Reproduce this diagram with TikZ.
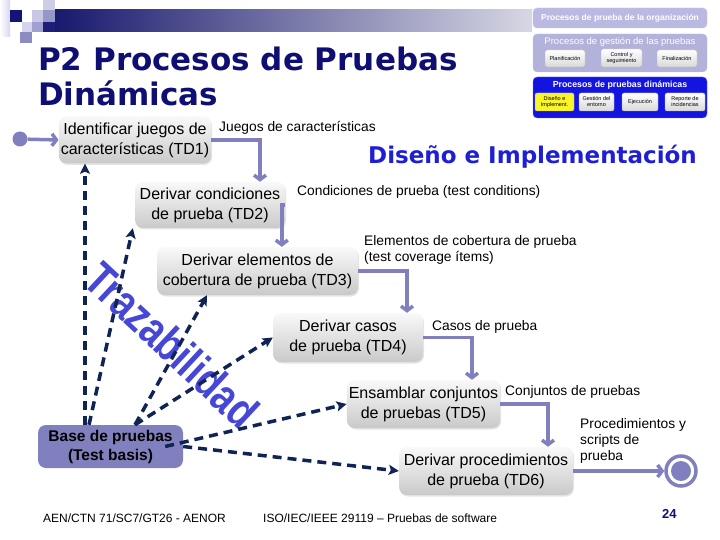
\documentclass[tikz,border=0pt]{standalone}
\usepackage{fontspec}
\setmainfont{Liberation Sans}
\newfontfamily\titlefont{DejaVu Sans}
\usetikzlibrary{arrows.meta,shadows,calc}
\definecolor{lav}{RGB}{128,128,190}
\definecolor{navy}{RGB}{15,15,115}
\definecolor{dnavy}{RGB}{15,35,85}
\definecolor{iblue}{RGB}{30,30,215}
\definecolor{trz}{RGB}{70,70,215}
\definecolor{thlav}{RGB}{185,185,225}
\definecolor{thlavd}{RGB}{205,205,235}
\definecolor{thmid}{RGB}{178,178,218}
\definecolor{thmidd}{RGB}{200,200,232}
\definecolor{thblue}{RGB}{20,20,225}
\definecolor{thblued}{RGB}{120,120,240}
\definecolor{thyel}{RGB}{250,245,40}
\definecolor{dcA}{RGB}{215,215,240}
\definecolor{dcB}{RGB}{20,20,120}
\definecolor{dcC}{RGB}{200,200,228}
\definecolor{dcD}{RGB}{150,150,200}
\definecolor{dcE}{RGB}{205,205,230}
\definecolor{dcF}{RGB}{212,212,236}
\definecolor{dcG}{RGB}{160,160,210}
\definecolor{dcH}{RGB}{30,30,120}
\definecolor{dcI}{RGB}{140,140,195}
\definecolor{barL}{RGB}{25,25,110}
\definecolor{barR}{RGB}{215,215,228}
\begin{document}
\begin{tikzpicture}[x=1pt,y=-1pt,
  proc/.style={rounded corners=8pt, top color=gray!5, bottom color=gray!42, draw=none,
    align=center, font=\fontsize{16}{20}\selectfont, inner sep=2pt,
    drop shadow={opacity=0.2,shadow xshift=1pt,shadow yshift=-1.5pt}},
  basebox/.style={rounded corners=8pt, fill=lav, draw=none, align=center,
    font=\fontsize{15.5}{19}\selectfont\bfseries, inner sep=2pt},
  flow/.style={draw=lav, line width=3.5pt, -{Straight Barb[length=4.5pt,width=12pt]}},
  trace/.style={draw=dnavy, line width=3.5pt, dash pattern=on 9pt off 6pt,
    -{Stealth[length=10pt,width=10pt,inset=2pt]}},
  lbl/.style={font=\fontsize{13.8}{16}\selectfont, anchor=north west, inner sep=0pt, align=left},
  foot/.style={font=\fontsize{12}{14}\selectfont, anchor=base west, inner sep=0pt},
  thbox/.style={rounded corners=2pt, top color=white, bottom color=gray!30, draw=gray!60,
    line width=0.4pt, align=center, font=\fontsize{5.5}{6}\selectfont, inner sep=0pt},
  thtitle/.style={text=white, font=\fontsize{8.5}{9}\selectfont, inner sep=0pt}
]
\useasboundingbox (0,0) rectangle (720,540);
\fill[white] (0,0) rectangle (720,540);

% --- header decoration ---
\shade[left color=white, right color=dcA] (0,0) rectangle (10,37);
\fill[dcB] (10,10) rectangle (22,22);
\fill[dcC] (32,10) rectangle (43,22);
\fill[dcD] (43,10) rectangle (55,22);
\fill[dcE] (43,0) rectangle (55,10);
\fill[dcF] (22,22) rectangle (32,32);
\fill[dcG] (32,22) rectangle (43,32);
\fill[dcH] (43,22) rectangle (55,32);
\fill[dcI] (20,32) rectangle (32,43);
\shade[left color=barL, right color=barR] (55,10) rectangle (532,32);

% --- title ---
\node[anchor=base west, inner sep=0pt, text=navy, align=left,
  font=\fontsize{31}{35}\selectfont\titlefont\bfseries] (title) at (38,106)
  {P2 Procesos de Pruebas\\Dinámicas};
\node[anchor=base west, inner sep=0pt, text=iblue,
  font=\fontsize{23}{26}\selectfont\titlefont\bfseries] (diseno) at (368,164)
  {Diseño e Implementación};

% --- thumbnail ---
\draw[rounded corners=4pt, fill=thlav, draw=thlavd] (533,8) rectangle (707,28);
\node[thtitle, font=\fontsize{8.5}{9}\selectfont\bfseries] (th1) at (620,18.5) {Procesos de prueba de la organización};
\draw[rounded corners=4pt, fill=thmid, draw=thmidd] (533,34) rectangle (707,72);
\node[thtitle, font=\fontsize{9.5}{10}\selectfont] (th2) at (620,42) {Procesos de gestión de las pruebas};
\node[thbox, minimum width=40pt, minimum height=17pt] (thp) at (565,58.5) {Planificación};
\node[thbox, minimum width=41pt, minimum height=18pt] (thc) at (621.5,58) {Control y\\seguimiento};
\node[thbox, minimum width=40pt, minimum height=17pt] (thf) at (677,58.5) {Finalización};
\draw[rounded corners=4pt, fill=thblue, draw=thblued] (533,77) rectangle (707,118);
\node[thtitle, font=\fontsize{8.8}{9}\selectfont\bfseries] (th3) at (620,85.5) {Procesos de pruebas dinámicas};
\node[thbox, top color=thyel, bottom color=thyel, minimum width=39pt, minimum height=18pt] (thd) at (554.5,102) {Diseño e\\Implement.};
\node[thbox, minimum width=35pt, minimum height=18pt] (thg) at (596.5,102) {Gestión del\\entorno};
\node[thbox, minimum width=36pt, minimum height=18pt] (the) at (640,102) {Ejecución};
\node[thbox, minimum width=40pt, minimum height=18pt] (thr) at (685,102) {Reporte de\\incidencias};

% --- Trazabilidad ---
\node[rotate=-43, text=trz, font=\fontsize{36}{40}\selectfont\bfseries, inner sep=0pt] (trzt) at (172,345)
  {\scalebox{1.04}[1.3]{Trazabilidad}};

% --- process nodes ---
\node[proc, minimum width=150pt, minimum height=47pt] (td1) at (135,140) {Identificar juegos de\\características (TD1)};
\node[proc, minimum width=150pt, minimum height=46pt] (td2) at (210,205) {Derivar condiciones\\de prueba (TD2)};
\node[proc, minimum width=201pt, minimum height=48pt] (td3) at (257.5,271) {Derivar elementos de\\cobertura de prueba (TD3)};
\node[proc, minimum width=150pt, minimum height=49pt] (td4) at (348,337.5) {Derivar casos\\de prueba (TD4)};
\node[proc, minimum width=149pt, minimum height=48pt] (td5) at (423.5,404) {Ensamblar conjuntos\\de pruebas (TD5)};
\node[proc, minimum width=174pt, minimum height=48pt] (td6) at (486,471) {Derivar procedimientos\\de prueba (TD6)};
\node[basebox, minimum width=145pt, minimum height=43pt] (base) at (110.5,446.5) {Base de pruebas\\(Test basis)};

% start / end
\node[circle, fill=lav, minimum size=15pt, inner sep=0pt] (start) at (20,139) {};
\node[circle, fill=white, draw=lav, line width=3.5pt, minimum size=30pt, inner sep=0pt] (endo) at (681,471) {};
\node[circle, fill=lav, minimum size=20pt, inner sep=0pt] (endi) at (681,471) {};

% --- flow connectors ---
\draw[flow] (start) -- (td1.west);
\draw[flow] (td1.east) -| ([xshift=50pt]td2.north);
\draw[flow] (td2.east) -| ([xshift=125pt]td3.north west);
\draw[flow] (td3.east) -| ([xshift=59pt]td4.north);
\draw[flow] (td4.east) -| ([xshift=48.5pt]td5.north);
\draw[flow] (td5.east) -| ([xshift=62pt]td6.north);
\draw[flow] (td6.east) -- (endo.west);

% --- labels ---
\node[lbl] (l1) at (219,121) {Juegos de características};
\node[lbl] (l2) at (297,185) {Condiciones de prueba (test conditions)};
\node[lbl] (l3) at (364,235) {Elementos de cobertura de prueba\\(test coverage ítems)};
\node[lbl] (l4) at (432,320) {Casos de prueba};
\node[lbl] (l5) at (505,385) {Conjuntos de pruebas};
\node[lbl] (l6) at (580,418) {Procedimientos y\\scripts de\\prueba};

% --- traceability arrows ---
\draw[trace] ([xshift=-25.5pt]base.north) -- ([xshift=-50pt]td1.south);
\draw[trace] ([xshift=-21.5pt]base.north) -- ([xshift=-2pt]td2.south west);
\draw[trace] ([xshift=24.5pt]base.north) -- ([xshift=-50.5pt]td3.south);
\draw[trace] ([xshift=24.5pt]base.north) -- (td4.west);
\draw[trace] ([xshift=-18pt]base.east) -- (td5.west);
\draw[trace] (base.east) -- (td6.west);

% --- footer ---
\node[foot] (f1) at (43,522) {AEN/CTN 71/SC7/GT26 - AENOR};
\node[foot] (f2) at (263,522) {ISO/IEC/IEEE 29119 – Pruebas de software};
\node[foot, text=navy, font=\fontsize{13}{14}\selectfont\bfseries] (f3) at (662,518) {24};
\end{tikzpicture}
\end{document}
